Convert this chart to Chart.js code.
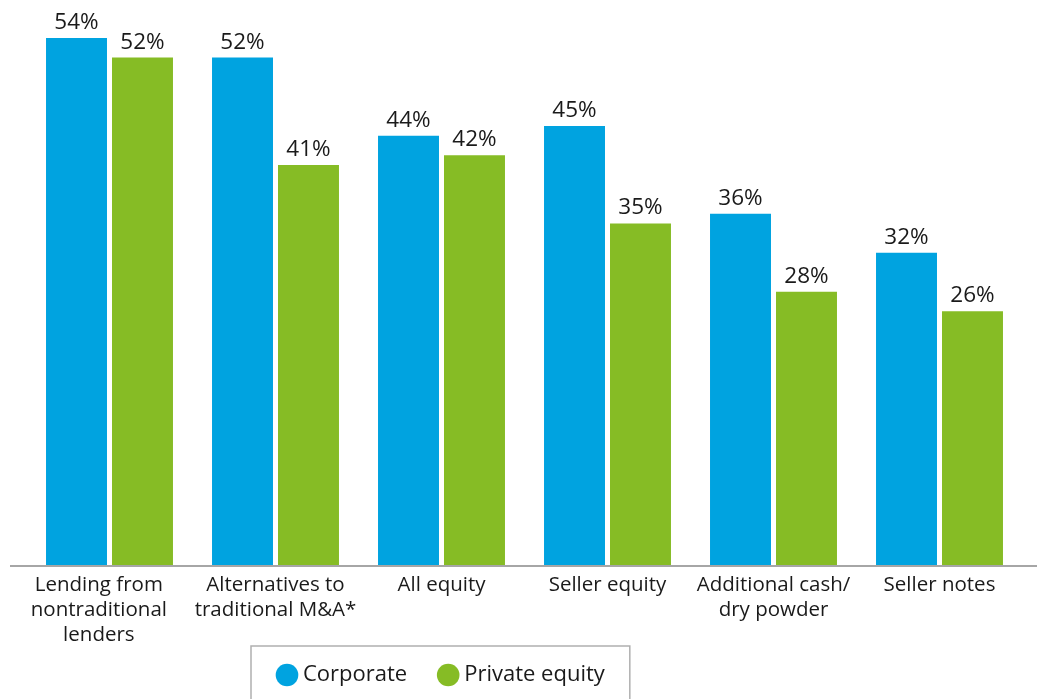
<!DOCTYPE html>
<html>
<head>
<meta charset="utf-8">
<title>Financing sources: corporate vs private equity</title>
<script src="https://cdn.jsdelivr.net/npm/chart.js@4.4.1/dist/chart.umd.min.js"></script>
<style>
  html, body { margin: 0; padding: 0; background: #ffffff; }
  #wrap { width: 1038px; height: 699px; position: relative; }
</style>
</head>
<body>
<div id="wrap"><canvas id="chart"></canvas></div>
<script>
// Categories (multi-line labels) and the two series, in percent
const categories = [
  ['Lending from\u00a0\u00a0\u00a0\u00a0', 'nontraditional\u00a0\u00a0\u00a0\u00a0', 'lenders\u00a0\u00a0\u00a0\u00a0'],
  ['Alternatives to', 'traditional M&A*'],
  'All equity',
  'Seller equity',
  ['Additional cash/', 'dry powder'],
  'Seller notes'
];
const seriesNames = ['Corporate', 'Private equity'];
const corporate = [54, 52, 44, 45, 36, 32];
const privateEquity = [52, 41, 42, 35, 28, 26];

const BLUE = '#00A3E0';
const GREEN = '#86BC25';
const TEXT = '#1a1a1a';
const FONT = "'Open Sans', 'Noto Sans', sans-serif";

// Percentage labels above each bar
const valueLabels = {
  id: 'valueLabels',
  afterDatasetsDraw(chart) {
    const ctx = chart.ctx;
    ctx.save();
    ctx.font = `22.5px ${FONT}`;
    ctx.fillStyle = TEXT;
    ctx.textAlign = 'center';
    ctx.textBaseline = 'alphabetic';
    chart.data.datasets.forEach((ds, i) => {
      chart.getDatasetMeta(i).data.forEach((bar, j) => {
        ctx.fillText(ds.data[j] + '%', bar.x, bar.y - 9);
      });
    });
    ctx.restore();
  }
};

// Baseline rule running the full width under the bars
const baseRule = {
  id: 'baseRule',
  afterDatasetsDraw(chart) {
    const { ctx, chartArea } = chart;
    ctx.save();
    ctx.strokeStyle = '#a6a6a6';
    ctx.lineWidth = 2;
    ctx.beginPath();
    ctx.moveTo(chartArea.left - 16.5, chartArea.bottom + 1);
    ctx.lineTo(chart.width - 1, chartArea.bottom + 1);
    ctx.stroke();
    ctx.restore();
  }
};

// Legend placement and its framing box
const LEGEND_LEFT = 246;
const legendFrame = {
  id: 'legendFrame',
  afterLayout(chart) {
    const lg = chart.legend;
    if (lg) lg.left = LEGEND_LEFT;
    // let the wrapped category labels run down past the axis box
    const x = chart.scales.x;
    if (x) x.bottom = chart.height;
  },
  afterDraw(chart) {
    const lg = chart.legend;
    if (!lg || !lg.legendHitBoxes.length) return;
    const boxes = lg.legendHitBoxes;
    const first = boxes[0];
    const last = boxes[boxes.length - 1];
    const cy = first.top + first.height / 2;
    const ctx = chart.ctx;
    ctx.save();
    ctx.strokeStyle = '#b0b0b0';
    ctx.lineWidth = 1.5;
    ctx.beginPath();
    ctx.moveTo(first.left - 31, chart.height + 2);
    ctx.lineTo(first.left - 31, cy - 29);
    ctx.lineTo(last.left + last.width + 25, cy - 29);
    ctx.lineTo(last.left + last.width + 25, chart.height + 2);
    ctx.stroke();
    ctx.restore();
  }
};

function build() {
  new Chart(document.getElementById('chart'), {
    type: 'bar',
    data: {
      labels: categories,
      datasets: [
        { label: seriesNames[0], data: corporate, backgroundColor: BLUE, borderWidth: 0 },
        { label: seriesNames[1], data: privateEquity, backgroundColor: GREEN, borderWidth: 0 }
      ]
    },
    options: {
      responsive: true,
      maintainAspectRatio: false,
      animation: false,
      events: [],
      layout: { padding: { left: 26.5, right: 15.5, top: 0, bottom: 3 } },
      datasets: {
        bar: { categoryPercentage: 0.795, barPercentage: 0.924 }
      },
      scales: {
        x: {
          grid: { display: false, drawTicks: false },
          border: { display: false },
          ticks: {
            font: { family: FONT, size: 20.5, lineHeight: 1.22 },
            color: TEXT,
            padding: 8,
            maxRotation: 0,
            autoSkip: false
          },
          afterFit(scale) { scale.height = 63; }
        },
        y: {
          display: false,
          min: 0,
          max: 57.9
        }
      },
      plugins: {
        tooltip: { enabled: false },
        legend: {
          position: 'bottom',
          align: 'start',
          labels: {
            usePointStyle: true,
            pointStyle: 'circle',
            boxWidth: 10,
            boxHeight: 16,
            padding: 36,
            color: TEXT,
            font: { family: FONT, size: 22 }
          }
        }
      }
    },
    plugins: [valueLabels, baseRule, legendFrame]
  });
}

if (document.fonts && document.fonts.load) {
  Promise.all([
    document.fonts.load(`20px ${FONT}`),
    document.fonts.load(`22px ${FONT}`)
  ]).then(build, build);
} else {
  build();
}
</script>
</body>
</html>
